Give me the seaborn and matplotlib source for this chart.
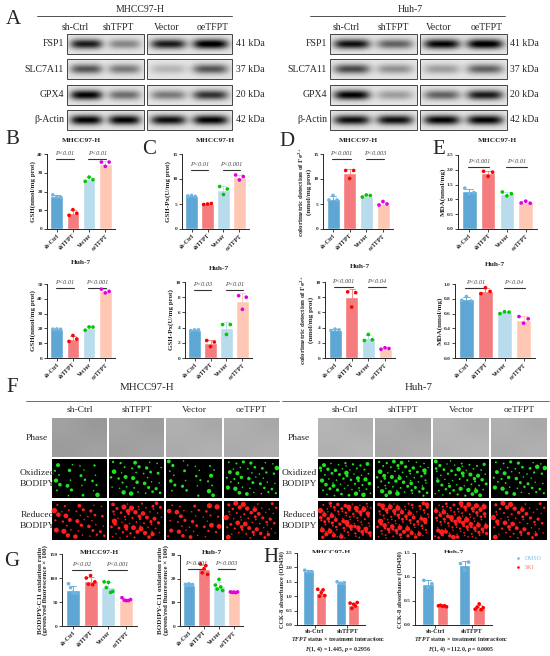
import matplotlib
matplotlib.use("Agg")
import matplotlib.pyplot as plt
import numpy as np
import pandas as pd
import seaborn as sns

W, H = 550, 656

groups = ["sh-Ctrl", "shTFPT", "Vector", "oeTFPT"]
bar_colors = ["#5EA6D3", "#F47C7E", "#B8DCEB", "#FFC8B4"]
point_colors = ["#6DB5E6", "#FF0000", "#00C800", "#E000E0"]

# western blot band strength per lane (order of `groups`)
blot_rows = ["FSP1", "SLC7A11", "GPX4", "β-Actin"]
blot_kda = ["41 kDa", "37 kDa", "20 kDa", "42 kDa"]
blot_mhcc = [[0.85, 0.40, 0.85, 1.00],
             [0.60, 0.45, 0.20, 0.60],
             [0.95, 0.50, 0.45, 0.75],
             [0.95, 0.95, 0.90, 0.95]]
blot_huh = [[0.90, 0.55, 0.95, 1.00],
            [0.65, 0.35, 0.30, 0.55],
            [0.95, 0.30, 0.55, 0.85],
            [0.90, 0.90, 0.95, 0.95]]

# B-E, individual replicates per group
gsh_mhcc = [[18.2, 17.0, 17.0], [7.3, 10.3, 8.4], [25.4, 27.7, 26.3], [35.7, 33.4, 35.7]]
gsh_huh = [[19.5, 19.6, 19.4], [11.2, 15.2, 12.8], [18.8, 21.0, 20.9], [46.5, 44.0, 45.0]]
gpx_mhcc = [[6.6, 6.7, 6.5], [4.9, 5.0, 5.1], [8.5, 6.9, 8.0], [10.8, 9.8, 10.5]]
gpx_huh = [[3.6, 3.7, 3.7], [2.3, 1.5, 2.1], [4.4, 3.1, 4.4], [8.2, 6.4, 8.0]]
fe_mhcc = [[5.8, 6.7, 5.8], [11.7, 10.1, 11.7], [6.4, 6.8, 6.7], [4.8, 5.5, 5.0]]
fe_huh = [[3.6, 3.8, 3.7], [8.7, 6.7, 8.6], [2.3, 3.1, 2.4], [1.15, 1.35, 1.25]]
mda_mhcc = [[1.38, 1.20, 1.23], [1.95, 1.78, 1.92], [1.25, 1.12, 1.19], [0.88, 0.94, 0.87]]
mda_huh = [[0.78, 0.83, 0.77], [0.87, 0.95, 0.90], [0.60, 0.625, 0.62], [0.56, 0.47, 0.53]]

# G
bodipy_mhcc = [[88, 80, 70, 68, 69], [100, 87, 105, 86, 92], [92, 80, 91, 70, 72], [59, 54, 53, 53, 55]]
bodipy_huh = [[17.6, 17.4, 17.8, 17.2, 17.5], [26.2, 22.5, 24.2, 25.5, 21.8],
              [17.3, 15.6, 19.7, 16.5, 15.0], [14.4, 14.2, 14.3, 14.1, 14.4]]

# H
status = ["sh-Ctrl", "shTFPT"]
treatments = ["DMSO", "SKI"]
cck_mhcc = {"DMSO": [[1.90, 1.83, 1.85], [1.50, 1.45, 1.47]],
            "SKI": [[1.24, 1.00, 1.12, 1.22, 1.02], [0.76, 0.58, 0.72, 0.66, 0.78]]}
cck_huh = {"DMSO": [[0.93, 0.78, 0.86], [1.28, 1.15, 1.31]],
           "SKI": [[0.40, 0.41, 0.39, 0.40, 0.38], [0.33, 0.37, 0.44, 0.32, 0.36]]}
h_notes = ["$\\it{F}$(1, 4) = 1.445, $\\it{p}$ = 0.2956",
           "$\\it{F}$(1, 4) = 112.0, $\\it{p}$ = 0.0005"]

# F: microscopy look (grey level of phase image, number of stained cells)
phase_mhcc = [0.63, 0.64, 0.69, 0.69]
phase_huh = [0.71, 0.67, 0.71, 0.69]
green_mhcc = [24, 38, 26, 42]
red_mhcc = [40, 62, 38, 58]
green_huh = [55, 62, 58, 45]
red_huh = [95, 95, 100, 60]

sns.set_theme(style="ticks")
plt.rcParams["font.family"] = ["Liberation Serif", "DejaVu Serif"]
plt.rcParams["mathtext.fontset"] = "custom"
plt.rcParams["mathtext.rm"] = "Liberation Serif:bold"
plt.rcParams["mathtext.it"] = "Liberation Serif:italic:bold"
plt.rcParams["mathtext.bf"] = "Liberation Serif:bold"

fig = plt.figure(figsize=(5.5, 6.56), dpi=100)
bg = fig.add_axes([0, 0, 1, 1])
bg.axis("off")


def px_axes(x0, y0, x1, y1):
    return fig.add_axes([x0 / W, 1 - y1 / H, (x1 - x0) / W, (y1 - y0) / H])


def letter(x, y, s):
    bg.text(x, y, s, fontsize=15, ha="left", va="center")


# ---------------- A: western blots ----------------
def blot_box(x0, x1, y0, y1, levels):
    nx, ny = 90, 30
    xx = np.linspace(0, 1, nx)[None, :]
    yy = np.linspace(0, 1, ny)[:, None]
    img = np.full((ny, nx), 0.9)
    n = len(levels)
    for k, lv in enumerate(levels):
        cx = (k + 0.5) / n
        prof = np.exp(-((xx - cx) / (0.42 / n)) ** 4) * np.exp(-((yy - 0.5) / 0.25) ** 2)
        img = img - lv * 0.95 * prof
    bg.imshow(np.clip(img, 0, 1), cmap="gray", vmin=0, vmax=1, extent=(x0, x1, y1, y0),
              aspect="auto", interpolation="bilinear", zorder=1)
    bg.add_patch(plt.Rectangle((x0, y0), x1 - x0, y1 - y0, fill=False, lw=0.7,
                               ec="#444444", zorder=2))


def blot_panel(title, tx, line, lane_x, box1, box2, lab_x, kda_x, levels):
    bg.text(tx, 9, title, fontsize=7, ha="center", va="center")
    bg.plot(line, [16, 16], color="#333333", lw=0.6)
    for g, x in zip(groups, lane_x):
        bg.text(x, 28, g, fontsize=7, ha="center", va="center")
    for r, (name, kda, lv) in enumerate(zip(blot_rows, blot_kda, levels)):
        y0 = 34 + r * 25.3
        y1 = y0 + 20
        blot_box(box1[0], box1[1], y0, y1, lv[:2])
        blot_box(box2[0], box2[1], y0, y1, lv[2:])
        bg.text(lab_x, (y0 + y1) / 2, name, fontsize=7, ha="right", va="center")
        bg.text(kda_x, (y0 + y1) / 2, kda, fontsize=7, ha="left", va="center")


letter(6, 19, "A")
blot_panel("MHCC97-H", 140, [37, 232], [75, 118, 167, 213], (67, 144), (147, 232), 64, 236, blot_mhcc)
blot_panel("Huh-7", 410, [310, 505], [346, 393, 439, 487], (330, 417), (420, 507), 327, 510, blot_huh)


# ---------------- bar helpers ----------------
def long_table(values):
    rows = []
    for gi, (g, vals) in enumerate(zip(groups, values)):
        offs = np.linspace(-0.24, 0.24, len(vals))
        for o, v in zip(offs, vals):
            rows.append((g, v, gi + o))
    return pd.DataFrame(rows, columns=["group", "value", "xpos"])


def style_axes(ax, ylim, ticks, ylabel, fs_lab=5.0):
    ax.set_ylim(0, ylim)
    ax.set_yticks(ticks)
    ax.set_ylabel(ylabel, fontsize=fs_lab, fontweight="bold", labelpad=1.0, linespacing=1.0)
    ax.set_xlabel("")
    ax.tick_params(length=2, width=0.6, pad=1, labelsize=3.8)
    for t in ax.get_yticklabels():
        t.set_fontweight("bold")
    for s in ["left", "bottom"]:
        ax.spines[s].set_linewidth(0.7)
    sns.despine(ax=ax)


def bar_panel(box, values, ylim, ticks, ylabel, title, title_y, pvals, pfrac):
    ax = px_axes(*box)
    df = long_table(values)
    sns.barplot(data=df, x="group", y="value", hue="group", order=groups, hue_order=groups,
                palette=bar_colors, saturation=1, errorbar="sd", capsize=0.35, width=0.78,
                err_kws={"linewidth": 0.6}, legend=False, ax=ax)
    for line, c in zip(ax.lines, bar_colors):
        line.set_color(c)
    sns.scatterplot(data=df, x="xpos", y="value", hue="group", hue_order=groups,
                    palette=point_colors, s=7, linewidth=0, legend=False, ax=ax, zorder=3)
    ax.set_xlim(-0.6, 3.6)
    ax.set_xticks(range(4))
    ax.set_xticklabels(groups, rotation=45, ha="right", rotation_mode="anchor")
    style_axes(ax, ylim, ticks, ylabel)
    for t in ax.get_xticklabels():
        t.set_fontweight("bold")
        t.set_fontsize(4.3)
    yb = pfrac * ylim
    for (a, b), p in zip([(0, 1), (2, 3)], pvals):
        ax.plot([a - 0.05, b + 0.05], [yb, yb], color="#333333", lw=0.8, clip_on=False)
        ax.text((a + b) / 2, yb + 0.04 * ylim, p, fontsize=4.5, style="italic",
                color="#444444", ha="center", va="bottom")
    bg.text((box[0] + box[2]) / 2, title_y, title, fontsize=5.3, fontweight="bold",
            ha="center", va="center")
    return ax


lab_gsh = "GSH(nmol/mg prot)"
lab_gpx = "GSH-Px(U/mg prot)"
lab_fe = "colorimetric detection of Fe$^{\\mathbf{2+}}$\n(nmol/mg prot)"
lab_mda = "MDA(nmol/mg)"

letter(5, 139, "B")
letter(142, 150, "C")
letter(279, 142, "D")
letter(432, 150, "E")

bar_panel((47, 154, 115, 229), gsh_mhcc, 40, [0, 10, 20, 30, 40], lab_gsh, "MHCC97-H", 140,
          ["P<0.01", "P<0.01"], 0.93)
bar_panel((182, 154, 249, 229), gpx_mhcc, 15, [0, 5, 10, 15], lab_gpx, "MHCC97-H", 141,
          ["P<0.01", "P<0.001"], 0.79)
bar_panel((323, 154, 393, 229), fe_mhcc, 15, [0, 5, 10, 15], lab_fe, "MHCC97-H", 141,
          ["P<0.001", "P<0.003"], 0.93)
bar_panel((458, 155, 537, 229), mda_mhcc, 2.5, [0.0, 0.5, 1.0, 1.5, 2.0, 2.5], lab_mda, "MHCC97-H", 140,
          ["P<0.001", "P<0.01"], 0.84)

bar_panel((47, 284, 115, 358), gsh_huh, 50, [0, 10, 20, 30, 40, 50], lab_gsh, "Huh-7", 263,
          ["P<0.01", "P<0.001"], 0.95)
bar_panel((185, 282, 252, 358), gpx_huh, 10, [0, 2, 4, 6, 8, 10], lab_gpx, "Huh-7", 268,
          ["P<0.03", "P<0.01"], 0.89)
bar_panel((325, 282, 395, 358), fe_huh, 10, [0, 2, 4, 6, 8, 10], lab_fe, "Huh-7", 267,
          ["P<0.001", "P<0.04"], 0.93)
bar_panel((455, 284, 535, 358), mda_huh, 1.0, [0.0, 0.2, 0.4, 0.6, 0.8, 1.0], lab_mda, "Huh-7", 264,
          ["P<0.01", "P<0.04"], 0.95)


# ---------------- F: microscopy ----------------
def dots(x0, x1, y0, y1, n, color, shift, smax):
    i = np.arange(1, n + 1)
    qx = (shift + i * 0.7548776662) % 1
    qy = (shift * 1.7 + i * 0.5698402910) % 1
    sz = 1.2 + smax * ((i * 0.618034 + shift) % 1) ** 3
    bg.scatter(x0 + 2 + qx * (x1 - x0 - 4), y0 + 2 + qy * (y1 - y0 - 4), s=sz, c=color,
               linewidths=0, zorder=3)


def micro_panel(title, tx, line, col_x, img_x, lab_x, phase, green, red):
    bg.text(tx, 388, title, fontsize=7.8, ha="center", va="center")
    bg.plot(line, [401, 401], color="#555555", lw=0.6)
    rows_y = [(418, 457), (459, 498), (501, 540)]
    for g, x in zip(groups, col_x):
        bg.text(x, 410, g, fontsize=6.8, ha="center", va="center")
    for lab, (y0, y1) in zip(["Phase", "Oxidized\nBODIPY", "Reduced\nBODIPY"], rows_y):
        bg.text(lab_x, (y0 + y1) / 2, lab, fontsize=6.8, ha="center", va="center", linespacing=1.5)
    for k, (x0, x1) in enumerate(img_x):
        y0, y1 = rows_y[0]
        bg.imshow([[phase[k], phase[k] - 0.03], [phase[k] - 0.02, phase[k]]], cmap="gray",
                  vmin=0, vmax=1, extent=(x0, x1, y1, y0), aspect="auto",
                  interpolation="bilinear", zorder=1)
        for (yy0, yy1), n, col, smax in zip(rows_y[1:], [green[k], red[k]],
                                           ["#22E022", "#FF1E1E"], [10, 14]):
            bg.imshow(np.zeros((2, 2, 3)), extent=(x0, x1, yy1, yy0), aspect="auto", zorder=1)
            dots(x0, x1, yy0, yy1, n, col, 0.13 * k + (0.4 if col == "#FF1E1E" else 0), smax)


letter(6, 387, "F")
micro_panel("MHCC97-H", 147, [26, 279], [80, 137, 194, 251],
            [(52, 107), (109, 164), (166, 222), (224, 279)], 37, phase_mhcc, green_mhcc, red_mhcc)
micro_panel("Huh-7", 419, [282, 549], [345, 403, 461, 519],
            [(318, 373), (375, 431), (433, 489), (491, 547)], 299, phase_huh, green_huh, red_huh)

# ---------------- G ----------------
letter(4, 561, "G")
lab_bod = "BODIPY-C11 oxidation ratio\n(green/red fluorescence × 100)"
bar_panel((62, 554, 137, 626), bodipy_mhcc, 150, [0, 50, 100, 150], lab_bod, "MHCC97-H", 552,
          ["P<0.02", "P<0.001"], 0.78)
bar_panel((180, 555, 243, 626), bodipy_huh, 30, [0, 10, 20, 30], lab_bod, "Huh-7", 552,
          ["P<0.001", "P<0.003"], 0.80)


# ---------------- H ----------------
def cck_panel(box, data, ylim, ticks, title, note, legend=False):
    ax = px_axes(*box)
    rows = []
    for t_i, t in enumerate(treatments):
        for s_i, s in enumerate(status):
            vals = data[t][s_i]
            offs = np.linspace(-0.11, 0.11, len(vals))
            for o, v in zip(offs, vals):
                rows.append((s, t, v, s_i + (t_i - 0.5) * 0.4 + o))
    df = pd.DataFrame(rows, columns=["status", "treatment", "value", "xpos"])
    sns.barplot(data=df, x="status", y="value", hue="treatment", order=status,
                hue_order=treatments, palette=bar_colors[:2], saturation=1, errorbar="sd",
                capsize=0.3, gap=0.2, err_kws={"linewidth": 0.6}, legend=False, ax=ax)
    for line, c in zip(ax.lines, [bar_colors[0]] * 2 + [bar_colors[1]] * 2):
        line.set_color(c)
    sns.scatterplot(data=df, x="xpos", y="value", hue="treatment", hue_order=treatments,
                    palette=point_colors[:2], s=7, linewidth=0, legend=legend, ax=ax, zorder=3)
    ax.set_xlim(-0.55, 1.55)
    ax.set_xticks(range(2))
    ax.set_xticklabels(status)
    style_axes(ax, ylim, ticks, "CCK-8 absorbance (OD450)", fs_lab=4.6)
    for t in ax.get_xticklabels():
        t.set_fontweight("bold")
        t.set_fontsize(4.5)
    ax.text(0.6, -0.2, "$\\it{TFPT}$ status × treatment interaction:", transform=ax.transAxes,
            fontsize=4.2, fontweight="bold", ha="center", va="center")
    ax.text(0.6, -0.34, note, transform=ax.transAxes, fontsize=4.2, fontweight="bold",
            ha="center", va="center")
    bg.text((box[0] + box[2]) / 2, 552, title, fontsize=5.3, fontweight="bold",
            ha="center", va="center")
    if legend:
        h, l = ax.get_legend_handles_labels()
        leg = ax.legend(h, l, loc="upper left", bbox_to_anchor=(1.2, 1.03), frameon=False,
                        fontsize=4.2, handletextpad=0.1, markerscale=0.7, labelspacing=0.6)
        for t, c in zip(leg.get_texts(), ["#7FBFEA", "#F07F86"]):
            t.set_color(c)
    return ax


letter(263, 558, "H")
cck_panel((297, 553, 365, 625), cck_mhcc, 2.5, [0.0, 0.5, 1.0, 1.5, 2.0, 2.5], "MHCC97-H", h_notes[0])
cck_panel((415, 553, 492, 625), cck_huh, 1.5, [0.0, 0.5, 1.0, 1.5], "Huh-7", h_notes[1], legend=True)

bg.set_xlim(0, W)
bg.set_ylim(H, 0)
fig.savefig("out.png", dpi=100)
